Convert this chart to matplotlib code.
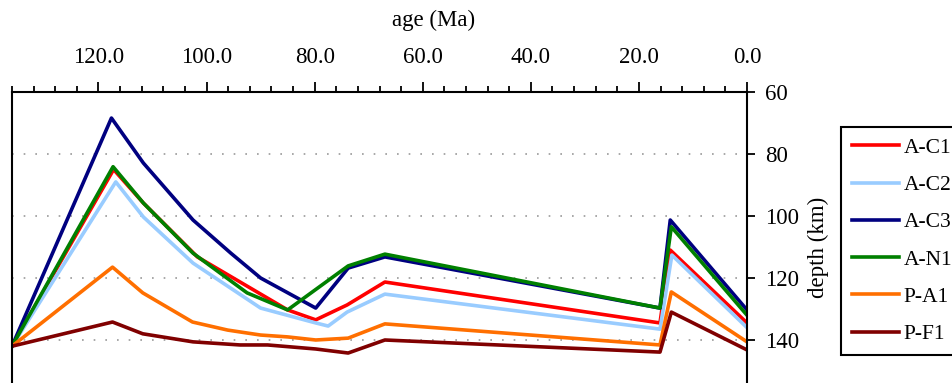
import matplotlib
matplotlib.use('Agg')
import matplotlib.pyplot as plt
from matplotlib.ticker import MultipleLocator, FormatStrFormatter

plt.rcParams['font.family'] = ['Liberation Serif', 'DejaVu Serif']

# age (Ma) / depth (km) for each model
ac1_age = [136, 117.2, 111.7, 101.7, 85.0, 79.8, 74.0, 67.0, 16.1, 14.2, 0]
ac1_depth = [142, 85, 95.8, 113.2, 130.3, 133.5, 128.7, 121.3, 134.5, 111, 134.5]

ac2_age = [136, 116.8, 111.7, 102.5, 90.0, 79.8, 77.5, 74.0, 67.0, 16.1, 13.9, 0]
ac2_depth = [142, 89, 100.3, 115.2, 129.7, 134.5, 135.5, 131, 125.2, 136.5, 112.6, 136]

ac3_age = [136, 117.6, 111.7, 102.5, 95.5, 90.0, 79.8, 73.8, 67.0, 16.1, 14.2, 0]
ac3_depth = [142, 68.4, 82.9, 101.3, 112, 120, 129.7, 116.8, 113.2, 129.7, 101.3, 130.3]

an1_age = [136, 117.3, 111.7, 102.5, 92.5, 85.0, 73.8, 67.0, 16.1, 14.0, 0]
an1_depth = [142, 84.1, 95.8, 112, 124.8, 130.3, 116.1, 112.3, 129.7, 103.5, 132]

pa1_age = [136, 117.4, 111.8, 102.6, 96.1, 92.3, 90.0, 85.0, 79.8, 73.8, 67.0, 16.1, 14.0, 0]
pa1_depth = [142, 116.5, 124.8, 134.2, 136.8, 137.8, 138.4, 139, 140, 139.4, 134.8, 141.6, 124.5, 140.6]

pf1_age = [136, 117.4, 111.8, 102.5, 93.8, 88.7, 79.8, 73.8, 67.0, 16.1, 14.0, 0]
pf1_depth = [142, 134.2, 138, 140.6, 141.6, 141.6, 142.9, 144.2, 140, 143.9, 131, 143.2]

series = [
    ('A-C1', ac1_age, ac1_depth, '#ff0000'),
    ('A-C2', ac2_age, ac2_depth, '#99ccff'),
    ('A-C3', ac3_age, ac3_depth, '#000080'),
    ('A-N1', an1_age, an1_depth, '#008000'),
    ('P-A1', pa1_age, pa1_depth, '#ff6f00'),
    ('P-F1', pf1_age, pf1_depth, '#800000'),
]

fig = plt.figure(figsize=(9.52, 3.83), dpi=100)
ax = fig.add_axes([12 / 952, -0.0496, 735 / 952, 0.8094])

for y in [80, 100, 120, 140]:
    ax.axhline(y, color='#999999', lw=1.2, ls=(0, (1, 6)), zorder=0)

for name, a, d, c in series:
    ax.plot(a, d, color=c, lw=2.6, label=name)

ax.set_xlim(136, 0)
ax.set_ylim(160, 60)
ax.xaxis.set_major_locator(MultipleLocator(20))
ax.xaxis.set_minor_locator(MultipleLocator(4))
ax.xaxis.set_major_formatter(FormatStrFormatter('%.1f'))
ax.set_yticks([60, 80, 100, 120, 140])

ax.xaxis.tick_top()
ax.yaxis.tick_right()
ax.yaxis.set_label_position('right')
ax.tick_params(axis='x', which='major', direction='out', length=7, width=1.3,
               labelsize=16.5, pad=10)
ax.tick_params(axis='x', which='minor', direction='out', length=4, width=1.3)
ax.tick_params(axis='y', direction='out', length=6, width=1.3, labelsize=16.5, pad=7)
ax.set_ylabel('depth (km)', fontsize=16.5, labelpad=6)

for s in ['top', 'left', 'right']:
    ax.spines[s].set_linewidth(1.5)
ax.spines['bottom'].set_visible(False)

fig.text(434 / 952, 1 - 20 / 383, 'age (Ma)', ha='center', va='center', fontsize=16.5)

leg = ax.legend(loc='upper left', bbox_to_anchor=(841 / 952, 1 - 127 / 383),
                bbox_transform=fig.transFigure, fontsize=15.5, handlelength=2.2,
                handletextpad=0.2, labelspacing=0.8, borderpad=0.5,
                fancybox=False, framealpha=1, borderaxespad=0)
leg.get_frame().set_edgecolor('black')
leg.get_frame().set_linewidth(1.5)

fig.savefig('out.png', dpi=100)
